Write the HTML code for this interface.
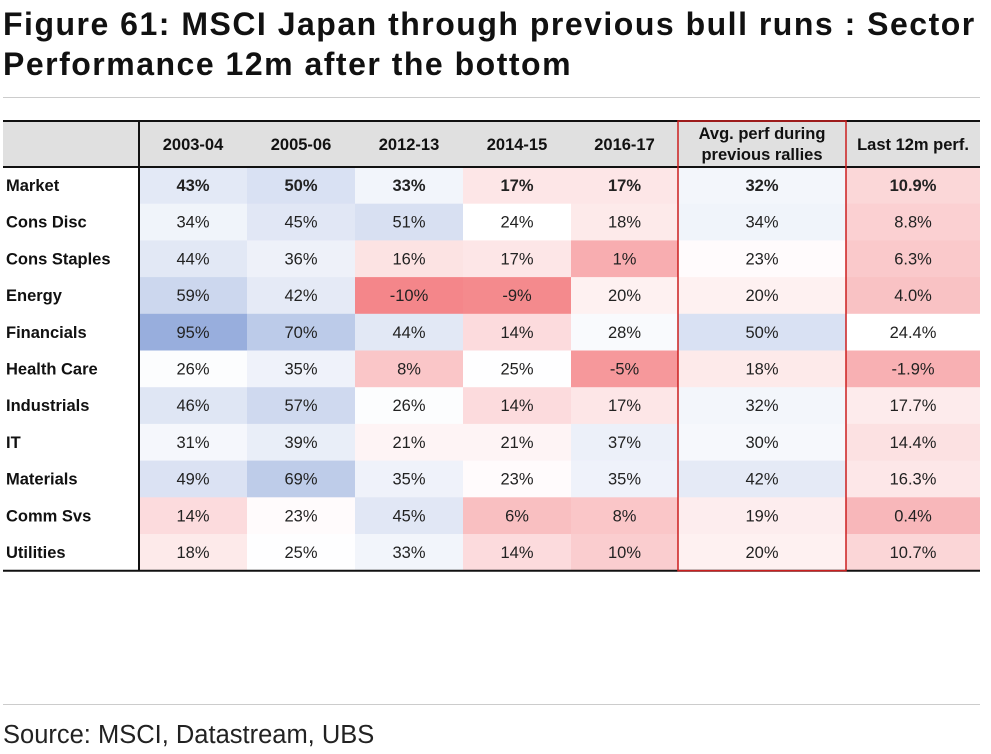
<!DOCTYPE html>
<html><head><meta charset="utf-8">
<style>
body{margin:0;width:991px;height:754px;background:#fff;overflow:hidden;font-family:"Liberation Sans",sans-serif;}
#title{position:absolute;left:3px;top:4px;font-size:32px;font-weight:bold;line-height:40px;color:#111;letter-spacing:1.5px;white-space:nowrap}
#sep1{position:absolute;left:3px;top:97px;width:977px;height:1px;background:#ccc}
#sep2{position:absolute;left:3px;top:704px;width:977px;height:1px;background:#ccc}
#source{position:absolute;left:3px;top:721px;font-size:25.5px;color:#222}
svg{position:absolute;left:0;top:0}
</style></head><body>
<div id="title">Figure 61: MSCI Japan through previous bull runs : Sector<br>Performance 12m after the bottom</div>
<div id="sep1"></div>
<svg id="tbl" width="991" height="754"></svg>
<div id="sep2"></div>
<div id="source">Source: MSCI, Datastream, UBS</div>
<script>
const columns=["2003-04","2005-06","2012-13","2014-15","2016-17","Avg. perf during|previous rallies","Last 12m perf."];
const rows=["Market","Cons Disc","Cons Staples","Energy","Financials","Health Care","Industrials","IT","Materials","Comm Svs","Utilities"];
const v0304=[43,34,44,59,95,26,46,31,49,14,18];
const v0506=[50,45,36,42,70,35,57,39,69,23,25];
const v1213=[33,51,16,-10,44,8,26,21,35,45,33];
const v1415=[17,24,17,-9,14,25,14,21,23,6,14];
const v1617=[17,18,1,20,28,-5,17,37,35,8,10];
const vAvg=[32,34,23,20,50,18,32,30,42,19,20];
const vLast=[10.9,8.8,6.3,4.0,24.4,-1.9,17.7,14.4,16.3,0.4,10.7];
const series=[v0304,v0506,v1213,v1415,v1617,vAvg,vLast];
const decimals=[0,0,0,0,0,0,1];

const NS="http://www.w3.org/2000/svg";
const svg=document.getElementById('tbl');
const colX=[139,247,355,463,571,678,846,980];
const tableLeft=3, headTop=121, headBot=167, rowH=36.7;
function mk(t,a){const e=document.createElementNS(NS,t);for(const k in a)e.setAttribute(k,a[k]);svg.appendChild(e);return e;}
function mix(a,b,t){return 'rgb('+a.map((x,i)=>Math.round(x+(b[i]-x)*t)).join(',')+')';}
const MID=24, LO=-10, HI=95;
function color(v,j){
  const w=[255,255,255];
  if(j==6){
    if(v>=24.4) return mix(w,[152,174,221],0);
    return mix(w,[244,134,138],Math.min(1,(24.4-v)/(24.4+10))*0.85);
  }
  if(v>=MID){return mix(w,[152,174,221],Math.min(1,(v-MID)/(HI-MID)));}
  return mix(w,[244,134,138],Math.min(1,(MID-v)/(MID-LO)));
}
function rowY(i){return headBot+i*rowH;}

let e=mk('rect',{x:tableLeft,y:headTop,width:977,height:headBot-headTop,fill:'#e0e0e0'});



columns.forEach((c,j)=>{
  const cx=(colX[j]+colX[j+1])/2;
  const parts=c.split('|');
  parts.forEach((p,k)=>{
    const t=mk('text',{x:cx,y:parts.length==1?150:139+k*21,'text-anchor':'middle','font-size':16.5,'font-weight':'bold',fill:'#111'});
    t.textContent=p;
    
    
  });
});

rows.forEach((r,i)=>{
  const y=rowY(i);
  const lab=mk('text',{x:6,y:y+24,'font-size':16.5,'font-weight':'bold',fill:'#111'});
  lab.textContent=r;
  
  
  series.forEach((s,j)=>{
    const v=s[i];
    const c=mk('rect',{x:colX[j],y:y,width:colX[j+1]-colX[j],height:rowH+0.5,fill:color(v,j)});
    
    
    const t=mk('text',{x:(colX[j]+colX[j+1])/2,y:y+24,'text-anchor':'middle','font-size':16.5,'font-weight':i==0?'bold':'normal',fill:'#222'});
    t.textContent=v.toFixed(decimals[j])+'%';
    
    
  });
});
const bot=rowY(rows.length);
e=mk('line',{x1:tableLeft,y1:headTop,x2:980,y2:headTop,stroke:'#111','stroke-width':2});

e=mk('line',{x1:tableLeft,y1:headBot,x2:980,y2:headBot,stroke:'#111','stroke-width':2});

e=mk('line',{x1:tableLeft,y1:bot,x2:980,y2:bot,stroke:'#111','stroke-width':2});

e=mk('line',{x1:139,y1:headTop,x2:139,y2:bot,stroke:'#111','stroke-width':2});

e=mk('rect',{x:678,y:headTop,width:168,height:bot-headTop,fill:'none',stroke:'#cc1f1f','stroke-width':1.5});

</script>
</body></html>
